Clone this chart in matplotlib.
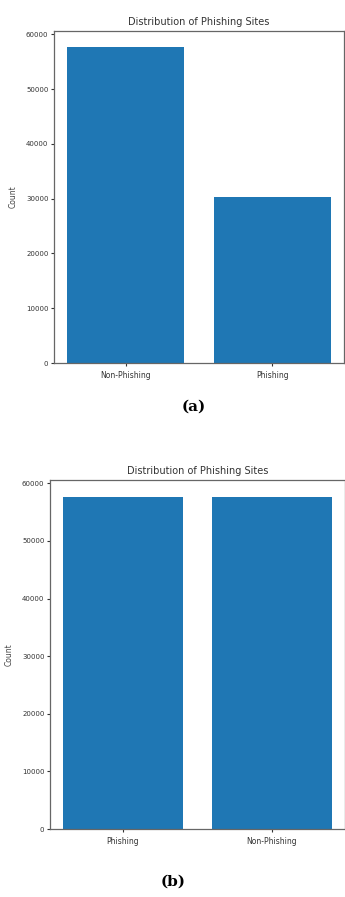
import matplotlib
matplotlib.use("Agg")
import matplotlib.pyplot as plt

# class counts before and after balancing
labels_a = ["Non-Phishing", "Phishing"]
counts_a = [57700, 30300]
labels_b = ["Phishing", "Non-Phishing"]
counts_b = [57700, 57700]

W, H = 345, 897
fig = plt.figure(figsize=(W / 100, H / 100), dpi=100)


def px_axes(left, top, right, bottom):
    return fig.add_axes([left / W, (H - bottom) / H, (right - left) / W, (bottom - top) / H])


def draw_panel(ax, labels, counts):
    ax.bar(labels, counts, color="#1f77b4", width=0.8)
    ax.set_title("Distribution of Phishing Sites", fontsize=7, color="#333333", pad=4)
    ax.set_ylabel("Count", fontsize=5.5, color="#444444", labelpad=6)
    ax.tick_params(axis="y", labelsize=5, length=2.5, pad=1.5, colors="#333333")
    ax.tick_params(axis="x", labelsize=5.5, length=2.5, pad=3, colors="#333333")
    for sp in ax.spines.values():
        sp.set_color("#666666")
        sp.set_linewidth(0.9)


ax1 = px_axes(54, 31, 344, 363)
draw_panel(ax1, labels_a, counts_a)
fig.text(194 / W, 1 - 407 / H, "(a)", fontsize=11, fontweight="bold",
         family="DejaVu Serif", ha="center", va="center")

ax2 = px_axes(50, 480, 345, 829)
draw_panel(ax2, labels_b, counts_b)
fig.text(173 / W, 1 - 882 / H, "(b)", fontsize=11, fontweight="bold",
         family="DejaVu Serif", ha="center", va="center")

fig.savefig("out.png", dpi=100)
